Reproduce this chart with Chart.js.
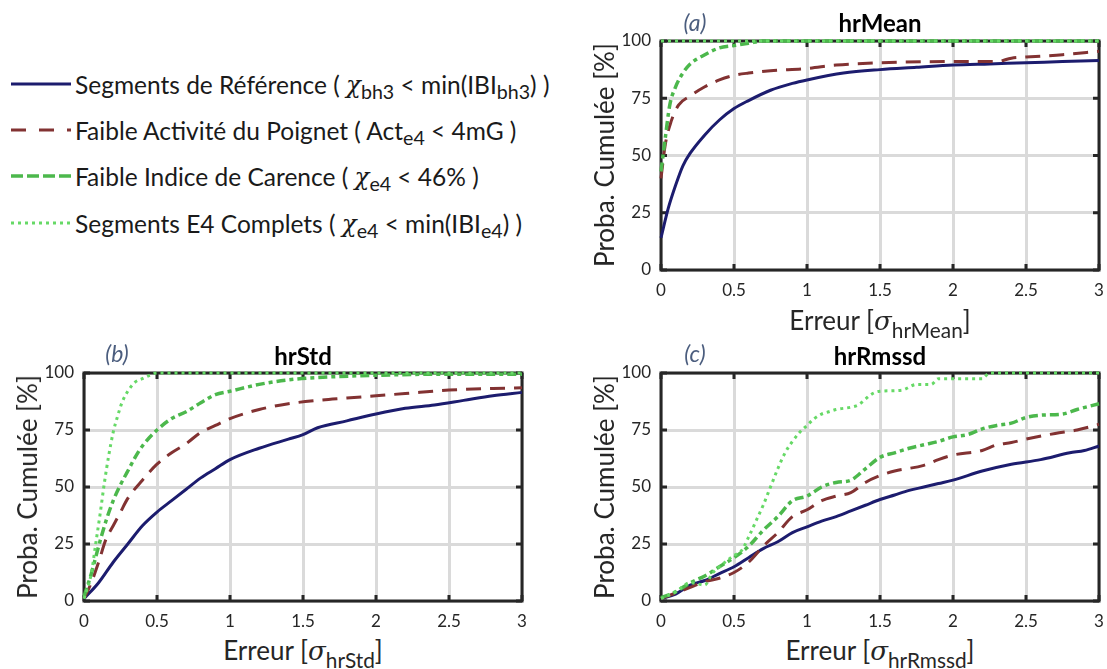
<!DOCTYPE html>
<html lang="fr">
<head>
<meta charset="UTF-8">
<title>Probabilité cumulée des erreurs</title>
<script src="https://cdn.jsdelivr.net/npm/chart.js"></script>
<style>
    body { margin: 0; background: #fff; font-family: Lato, "Open Sans", sans-serif; color: #1a1a1a; }
    #page { position: relative; width: 1107px; height: 669px; overflow: hidden; }
    canvas { position: absolute; }
    .titre { position: absolute; font-weight: bold; font-size: 24px; transform: translate(-50%, -50%); white-space: nowrap; color: #000; }
    .lettre { position: absolute; font-style: italic; font-size: 23px; color: #4b5d7e; transform: translate(-50%, -50%); }
    .ylab { position: absolute; font-size: 26px; white-space: nowrap; transform: translate(-50%, -50%) rotate(-90deg); color: #262626; }
    .xlab { position: absolute; font-size: 26px; white-space: nowrap; transform: translate(-50%, -50%); color: #262626; }
    .grec { font-family: "DejaVu Serif", "Liberation Serif", serif; font-style: italic; }
    .ind { font-size: 0.8em; position: relative; top: 0.4em; }
    .ligne { position: absolute; left: 10px; display: flex; align-items: center; height: 30px; white-space: nowrap; font-size: 24.5px; }
    .ligne svg { margin-right: 3px; }
</style>
</head>
<body>
<div id="page">
    <div class="ligne" style="top:69px"><svg width="62" height="10"><line x1="1" y1="5" x2="61" y2="5" stroke="#1c1c6e" stroke-width="3"/></svg>Segments de Référence (&nbsp;<span class="grec">χ</span><span class="ind">bh3</span>&nbsp;&lt; min(IBI<span class="ind">bh3</span>) )</div>
    <div class="ligne" style="top:115px"><svg width="62" height="10"><line x1="1" y1="5" x2="61" y2="5" stroke="#823232" stroke-width="3" stroke-dasharray="15,13"/></svg>Faible Activité du Poignet ( Act <span class="ind">e4</span>&nbsp;&lt; 4mG )</div>
    <div class="ligne" style="top:161px"><svg width="62" height="10"><line x1="1" y1="5" x2="61" y2="5" stroke="#4cb84c" stroke-width="3.5" stroke-dasharray="12,4"/></svg>Faible Indice de Carence (&nbsp;<span class="grec">χ</span><span class="ind">e4</span>&nbsp;&lt; 46% )</div>
    <div class="ligne" style="top:208px"><svg width="62" height="10"><line x1="1" y1="5" x2="61" y2="5" stroke="#66d966" stroke-width="3" stroke-dasharray="3,4"/></svg>Segments E4 Complets (&nbsp;<span class="grec">χ</span><span class="ind">e4</span>&nbsp;&lt; min(IBI<span class="ind">e4</span>) )</div>

    <canvas id="grapheA" width="517" height="300" style="left:590px;top:0px"></canvas>
    <canvas id="grapheB" width="520" height="300" style="left:10px;top:330px"></canvas>
    <canvas id="grapheC" width="517" height="300" style="left:590px;top:330px"></canvas>

    <div class="lettre" style="left:695px;top:22px">(a)</div>
    <div class="titre" style="left:880px;top:22px">hrMean</div>
    <div class="ylab" style="left:604px;top:155px">Proba. Cumulée [%]</div>
    <div class="xlab" style="left:880px;top:320px">Erreur [<span class="grec">σ</span><span class="ind">hrMean</span>]</div>

    <div class="lettre" style="left:117px;top:353px">(b)</div>
    <div class="titre" style="left:303px;top:355px">hrStd</div>
    <div class="ylab" style="left:27px;top:487px">Proba. Cumulée [%]</div>
    <div class="xlab" style="left:303px;top:650px">Erreur [<span class="grec">σ</span><span class="ind">hrStd</span>]</div>

    <div class="lettre" style="left:695px;top:353px">(c)</div>
    <div class="titre" style="left:880px;top:355px">hrRmssd</div>
    <div class="ylab" style="left:604px;top:487px">Proba. Cumulée [%]</div>
    <div class="xlab" style="left:880px;top:650px">Erreur [<span class="grec">σ</span><span class="ind">hrRmssd</span>]</div>
</div>

<script>
    // graduations
    const xTicks = [0, 0.5, 1, 1.5, 2, 2.5, 3];
    const yTicks = [0, 25, 50, 75, 100];

    // hrMean : [erreur, proba %]
    const meanReference = [[0,14],[0.05,27],[0.1,37],[0.15,45.5],[0.2,51],[0.3,59],[0.4,65.5],[0.5,70.5],[0.6,74],[0.75,78.5],[0.9,81.5],[1,83],[1.25,86],[1.5,87.5],[1.75,88.5],[2,89.5],[2.25,90],[2.5,90.5],[2.75,91],[3,91.5]];
    const meanActivite = [[0,40],[0.03,55],[0.07,65],[0.12,72],[0.2,76],[0.3,80],[0.4,83],[0.5,85],[0.6,86],[0.75,87],[1,88],[1.2,89.5],[1.5,90.5],[2,91],[2.3,91],[2.4,92.5],[2.5,93],[2.75,94],[3,95.5]];
    const meanCarence = [[0,43],[0.03,58],[0.06,72],[0.1,80],[0.15,86],[0.2,90],[0.3,94],[0.4,97],[0.5,98],[0.6,99],[0.7,100],[3,100]];
    const meanComplets = [[0,100],[3,100]];

    // hrStd
    const stdReference = [[0,1],[0.1,8],[0.2,17],[0.3,25],[0.4,33],[0.5,39],[0.6,44],[0.7,49],[0.8,54],[0.9,58],[1,62],[1.2,67],[1.4,71],[1.5,73],[1.6,76],[1.8,79],[2,82],[2.2,84.5],[2.4,86],[2.6,88],[2.8,90],[3,91.5]];
    const stdActivite = [[0,1],[0.05,8],[0.1,17],[0.15,27],[0.2,33],[0.25,39],[0.3,45],[0.4,53],[0.5,60],[0.6,65],[0.7,69],[0.8,74],[0.9,77],[1,80],[1.2,84],[1.4,86.5],[1.6,88],[1.8,89],[2,90],[2.2,91],[2.5,92.5],[2.8,93.2],[3,93.5]];
    const stdCarence = [[0,2],[0.05,12],[0.1,24],[0.15,35],[0.2,44],[0.25,51],[0.3,57],[0.35,63],[0.4,68],[0.5,75],[0.6,80],[0.7,83],[0.8,87],[0.9,90.5],[1,92],[1.2,95],[1.4,97],[1.6,98],[2,99],[2.5,99.5],[3,99.5]];
    const stdComplets = [[0,1],[0.05,12],[0.08,25],[0.11,38],[0.14,52],[0.17,64],[0.2,74],[0.23,81],[0.26,87],[0.3,92],[0.35,96],[0.4,97.5],[0.45,99],[0.5,100],[3,100]];

    // hrRmssd
    const rmssdReference = [[0,1],[0.1,3],[0.2,7],[0.3,9],[0.4,12],[0.5,15],[0.6,19],[0.7,23],[0.8,26],[0.9,30],[1,32.5],[1.1,35],[1.2,37],[1.3,39.5],[1.4,42],[1.5,44.5],[1.6,46.5],[1.7,48.5],[1.8,50],[1.9,51.5],[2,53],[2.2,57],[2.4,60],[2.6,62],[2.8,65],[2.9,66],[3,68]];
    const rmssdActivite = [[0,1],[0.1,3.5],[0.2,6],[0.3,8.5],[0.4,10],[0.5,12.5],[0.6,17],[0.7,24],[0.8,30],[0.9,37],[1,40],[1.1,44],[1.2,46],[1.3,47.5],[1.4,52],[1.5,55],[1.6,57],[1.8,59.5],[1.9,62],[2,64],[2.2,66],[2.3,68.5],[2.4,69.5],[2.5,71],[2.7,73.5],[2.85,75],[3,77.5]];
    const rmssdCarence = [[0,1.5],[0.1,4],[0.2,8],[0.3,11],[0.4,15],[0.5,19],[0.6,24],[0.7,31],[0.8,37],[0.9,44],[1,46],[1.1,50],[1.2,52],[1.3,53],[1.4,58],[1.5,63],[1.6,65],[1.7,67],[1.8,68.5],[1.9,70],[2,72],[2.1,73],[2.2,75.5],[2.3,77],[2.4,78],[2.5,80.5],[2.6,81.5],[2.75,82],[2.85,84],[3,86.5]];
    const rmssdComplets = [[0,1],[0.1,4],[0.2,8],[0.3,7],[0.35,12],[0.4,15],[0.5,20],[0.55,22],[0.6,28],[0.65,35],[0.7,42],[0.75,50],[0.8,58],[0.85,65],[0.9,70],[0.95,74],[1,77],[1.05,80],[1.1,82],[1.15,83],[1.2,84],[1.3,85],[1.35,86],[1.45,91],[1.5,92],[1.65,92.5],[1.75,95],[1.85,95],[1.9,97.5],[2.2,97.5],[2.25,100],[3,100]];

    const nomsSeries = ['Segments de Référence', 'Faible Activité du Poignet', 'Faible Indice de Carence', 'Segments E4 Complets'];
    const styles = [
        { couleur: '#1c1c6e', largeur: 3, tirets: [] },
        { couleur: '#823232', largeur: 3, tirets: [15, 9] },
        { couleur: '#4cb84c', largeur: 3.5, tirets: [9, 4, 4, 4] },
        { couleur: '#66d966', largeur: 3, tirets: [3, 4] }
    ];

    // cadre noir + petites graduations vers l'intérieur
    const cadre = {
        id: 'cadre',
        beforeDatasetsDraw(chart) {
            const { ctx, chartArea: a, scales } = chart;
            ctx.save();
            ctx.strokeStyle = '#262626';
            ctx.lineWidth = 3;
            ctx.beginPath();
            xTicks.forEach(v => {
                const px = scales.x.getPixelForValue(v);
                ctx.moveTo(px, a.bottom); ctx.lineTo(px, a.bottom - 6);
                ctx.moveTo(px, a.top); ctx.lineTo(px, a.top + 6);
            });
            yTicks.forEach(v => {
                const py = scales.y.getPixelForValue(v);
                ctx.moveTo(a.left, py); ctx.lineTo(a.left + 6, py);
                ctx.moveTo(a.right, py); ctx.lineTo(a.right - 6, py);
            });
            ctx.stroke();
            ctx.strokeRect(a.left, a.top, a.right - a.left, a.bottom - a.top);
            ctx.restore();
        }
    };

    function creerGraphe(id, series, marges) {
        new Chart(document.getElementById(id), {
            type: 'line',
            data: {
                datasets: series.map((s, i) => ({
                    label: nomsSeries[i],
                    data: s.map(p => ({ x: p[0], y: p[1] })),
                    borderColor: styles[i].couleur,
                    borderWidth: styles[i].largeur,
                    borderDash: styles[i].tirets,
                    pointRadius: 0,
                    cubicInterpolationMode: 'monotone',
                    clip: false,
                    order: 4 - i
                }))
            },
            options: {
                responsive: false,
                animation: false,
                layout: { padding: { top: marges.haut, right: 8, left: 0, bottom: 0 } },
                plugins: { legend: { display: false }, tooltip: { enabled: false } },
                scales: {
                    x: {
                        type: 'linear', min: 0, max: 3,
                        afterBuildTicks: s => { s.ticks = xTicks.map(v => ({ value: v })); },
                        afterFit: s => { s.height = marges.bas; s.paddingLeft = 0; s.paddingRight = 0; },
                        grid: { color: '#dadada', lineWidth: 3, drawTicks: false },
                        border: { display: false },
                        ticks: { padding: 10, color: '#262626', font: { family: 'Lato', size: 17 }, maxRotation: 0, callback: v => String(v) }
                    },
                    y: {
                        min: 0, max: 100,
                        afterBuildTicks: s => { s.ticks = yTicks.map(v => ({ value: v })); },
                        afterFit: s => { s.width = marges.gauche; s.paddingTop = 0; s.paddingBottom = 0; },
                        grid: { color: '#dadada', lineWidth: 3, drawTicks: false },
                        border: { display: false },
                        ticks: { padding: 10, color: '#262626', font: { family: 'Lato', size: 17 }, callback: v => String(v) }
                    }
                }
            },
            plugins: [cadre]
        });
    }

    creerGraphe('grapheA', [meanReference, meanActivite, meanCarence, meanComplets], { haut: 41, bas: 30, gauche: 71 });
    creerGraphe('grapheB', [stdReference, stdActivite, stdCarence, stdComplets], { haut: 43, bas: 29, gauche: 74 });
    creerGraphe('grapheC', [rmssdReference, rmssdActivite, rmssdCarence, rmssdComplets], { haut: 43, bas: 29, gauche: 71 });
</script>
</body>
</html>
